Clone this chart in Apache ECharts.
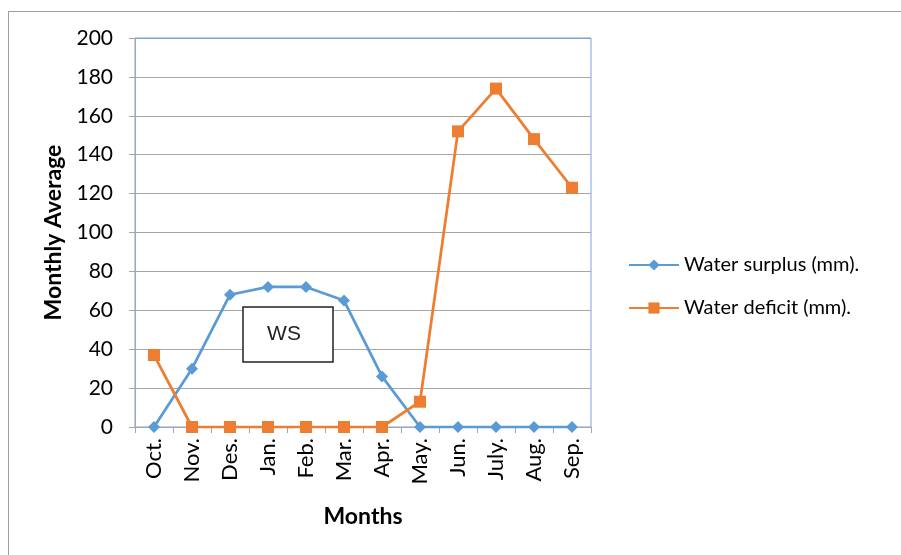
<!DOCTYPE html>
<html><head><meta charset="utf-8">
<script src="https://cdn.jsdelivr.net/npm/echarts@6/dist/echarts.min.js"></script>
<style>html,body{margin:0;padding:0;background:#fff}#c{width:901px;height:555px}</style>
</head><body><div id="c"></div>
<script>
const months = ['Oct.','Nov.','Des.','Jan.','Feb.','Mar.','Apr.','May.','Jun.','July.','Aug.','Sep.'];
const waterSurplus = [0, 30, 68, 72, 72, 65, 26, 0, 0, 0, 0, 0];
const waterDeficit = [37, 0, 0, 0, 0, 0, 0, 13, 152, 174, 148, 123];
const yTicks = {min: 0, max: 200, interval: 20};
const FONT = 'Lato';
const chart = echarts.init(document.getElementById('c'), null, {renderer: 'canvas'});
const grayGrid = '#a6a6a6';
const blueBorder = '#7aa3d9';
const splitColors = [];
for (let v = yTicks.min; v <= yTicks.max; v += yTicks.interval) splitColors.push(v === yTicks.max ? blueBorder : grayGrid);
chart.setOption({
  animation: false,
  textStyle: {fontFamily: FONT},
  grid: {left: 135, right: 310, top: 38, bottom: 128, show: true, borderColor: blueBorder, borderWidth: 1, backgroundColor: 'transparent'},
  xAxis: {
    type: 'category', data: months, boundaryGap: true,
    name: 'Months', nameLocation: 'middle', nameGap: 78,
    nameTextStyle: {fontFamily: FONT, fontWeight: 'bold', fontSize: 23, color: '#000'},
    axisLine: {lineStyle: {color: '#a6a6a6', width: 1}},
    axisTick: {show: true, length: 6, lineStyle: {color: '#a6a6a6'}},
    axisLabel: {rotate: 90, margin: 11, fontSize: 22, color: '#000', fontFamily: FONT},
    splitLine: {show: false}
  },
  yAxis: {
    type: 'value', min: yTicks.min, max: yTicks.max, interval: yTicks.interval,
    name: 'Monthly Average', nameLocation: 'middle', nameGap: 66, nameRotate: 90,
    nameTextStyle: {fontFamily: FONT, fontWeight: 'bold', fontSize: 23, color: '#000'},
    axisLine: {show: true, lineStyle: {color: '#a6a6a6', width: 1}},
    axisTick: {show: true, length: 6, lineStyle: {color: '#a6a6a6'}},
    axisLabel: {margin: 22, fontSize: 21, color: '#000', fontFamily: FONT},
    splitLine: {show: true, lineStyle: {color: splitColors, width: 1}}
  },
  legend: {
    orient: 'vertical', left: 623, top: 249, itemWidth: 50, itemHeight: 14, itemGap: 21,
    textStyle: {fontSize: 20, lineHeight: 22, color: '#000', fontFamily: FONT},
    data: ['Water surplus (mm).', 'Water deficit (mm).']
  },
  series: [
    {name: 'Water surplus (mm).', type: 'line', data: waterSurplus, symbol: 'diamond', symbolSize: 12,
     lineStyle: {color: '#5b9bd5', width: 2.75}, itemStyle: {color: '#5b9bd5'}, z: 3},
    {name: 'Water deficit (mm).', type: 'line', data: waterDeficit, symbol: 'rect', symbolSize: 12,
     lineStyle: {color: '#ed7d31', width: 2.75}, itemStyle: {color: '#ed7d31'}, z: 4}
  ],
  graphic: [
    {type: 'line', shape: {x1: 8, y1: 11.5, x2: 901, y2: 11.5}, style: {stroke: '#a0a0a0', lineWidth: 1}},
    {type: 'line', shape: {x1: 8.5, y1: 11, x2: 8.5, y2: 555}, style: {stroke: '#a0a0a0', lineWidth: 1}},
    {type: 'rect', shape: {x: 243, y: 307, width: 90, height: 55}, style: {fill: '#fff', stroke: '#222', lineWidth: 1.5}, z: 10},
    {type: 'text', x: 284, y: 334, style: {text: 'WS', fontSize: 21, fontFamily: 'Liberation Sans', fill: '#222', align: 'center', verticalAlign: 'middle'}, z: 11}
  ]
});
</script></body></html>
